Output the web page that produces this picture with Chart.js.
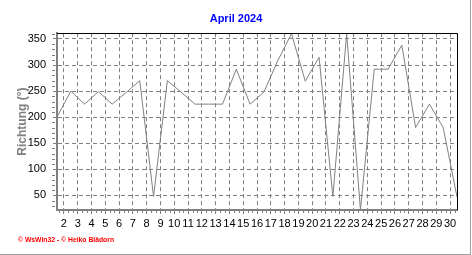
<!DOCTYPE html>
<html>
<head>
<meta charset="utf-8">
<script src="https://cdn.jsdelivr.net/npm/chart.js@4"></script>
<style>
  html, body { margin: 0; padding: 0; background: #fff; }
  #wrap { position: relative; width: 470px; height: 254px; border-right: 1px solid #a0a0a0; border-bottom: 1px solid #a0a0a0; }
  #c { position: absolute; left: 0; top: 0; }
  #credit { position: absolute; left: 18px; top: 236px; font: bold 6.8px "Liberation Sans", Arial, sans-serif; color: #ff0000; white-space: nowrap; }
</style>
</head>
<body>
<div id="wrap">
  <canvas id="c" width="472" height="255"></canvas>
  <div id="credit">© WsWin32 - © Heiko Blädorn</div>
</div>
<script>
/* Windrichtung April 2024 — daily mean direction */

// ── Data ─────────────────────────────────────────────────────────────────────

const DAYS = [1, 2, 3, 4, 5, 6, 7, 8, 9, 10, 11, 12, 13, 14, 15,
              16, 17, 18, 19, 20, 21, 22, 23, 24, 25, 26, 27, 28, 29, 30];
const DIRECTION = [200, 250, 225, 249, 225, 247, 270, 48, 270, 248, 225, 225, 225, 292, 225,
                   248, 308, 360, 269, 315, 48, 360, 22, 292, 292, 338, 180, 225, 180, 47];
const X_TICKS = [2, 3, 4, 5, 6, 7, 8, 9, 10, 11, 12, 13, 14, 15, 16,
                 17, 18, 19, 20, 21, 22, 23, 24, 25, 26, 27, 28, 29, 30];
const Y_MIN = 22;
const Y_MAX = 361;

const GRAY = '#808080';
const FONT = '"Liberation Sans", Arial, sans-serif';

// Each day's value sits in the middle of its day (grid line k = start of day k)
const points = DAYS.map((d, i) => ({ x: d + 0.5, y: DIRECTION[i] }));

// ── Frame + minor ticks ─────────────────────────────────────────────────────

const frame_plugin = {
  id: 'frame',
  afterDraw(chart) {
    const { ctx, chartArea: a, scales } = chart;
    ctx.save();
    ctx.strokeStyle = '#000';
    ctx.lineWidth = 1;
    ctx.beginPath();
    ctx.moveTo(a.left, Math.round(a.top) + 0.5);
    ctx.lineTo(Math.round(a.right) + 0.5, Math.round(a.top) + 0.5);
    ctx.lineTo(Math.round(a.right) + 0.5, a.bottom);
    ctx.stroke();

    // minor ticks: every 8 h on x, every 10° on y
    ctx.strokeStyle = GRAY;
    ctx.beginPath();
    for (let k = 5; k <= 91; k++) {
      if (k % 3 === 0) continue;
      const x = Math.round(scales.x.getPixelForValue(k / 3)) + 0.5;
      ctx.moveTo(x, a.bottom);
      ctx.lineTo(x, a.bottom + 3);
    }
    for (let v = 30; v <= 360; v += 10) {
      if (v % 50 === 0) continue;
      const y = Math.round(scales.y.getPixelForValue(v)) + 0.5;
      ctx.moveTo(a.left - 2, y);
      ctx.lineTo(a.left - 5, y);
    }
    ctx.stroke();
    ctx.restore();
  }
};

new Chart(document.getElementById('c'), {
  type: 'line',
  data: {
    datasets: [{
      data: points,
      borderColor: GRAY,
      borderWidth: 1,
      pointRadius: 0,
      tension: 0,
      fill: false,
    }]
  },
  options: {
    responsive: false,
    animation: false,
    devicePixelRatio: 1,
    layout: { padding: 0 },
    plugins: {
      legend: { display: false },
      tooltip: { enabled: false },
      title: {
        display: true,
        text: 'April 2024',
        color: '#0000ff',
        font: { family: FONT, size: 11, weight: 'bold' },
        padding: { top: 12, bottom: 8 },
      },
    },
    scales: {
      x: {
        type: 'linear',
        min: 1.5,
        max: 30.5,
        afterFit: s => { s.height = 45; },
        afterBuildTicks: s => { s.ticks = X_TICKS.map(v => ({ value: v })); },
        ticks: {
          autoSkip: false,
          maxRotation: 0,
          color: '#000',
          padding: 3,
          font: { family: FONT, size: 11 },
          callback: v => String(v),
        },
        grid: { color: GRAY, lineWidth: 1, tickLength: 4, tickColor: GRAY, tickBorderDash: [] },
        border: { color: GRAY, width: 2, dash: [4, 3] },
      },
      y: {
        min: Y_MIN,
        max: Y_MAX,
        afterFit: s => { s.width = 57; },
        ticks: {
          stepSize: 50,
          includeBounds: false,
          color: '#000',
          padding: 7,
          font: { family: FONT, size: 11 },
        },
        grid: { color: GRAY, lineWidth: 1, tickLength: 4, tickColor: GRAY, tickBorderDash: [] },
        border: { color: GRAY, width: 2, dash: [4, 3] },
        title: {
          display: true,
          text: 'Richtung (°)',
          color: GRAY,
          font: { family: FONT, size: 12, weight: 'bold' },
          padding: { top: 15, bottom: 0 },
        },
      },
      // empty right-hand strip so the title centres on the full width
      yr: {
        position: 'right',
        display: true,
        afterFit: s => { s.width = 15; },
        ticks: { display: false },
        grid: { display: false },
        border: { display: false },
      },
    },
  },
  plugins: [frame_plugin],
});
</script>
</body>
</html>
